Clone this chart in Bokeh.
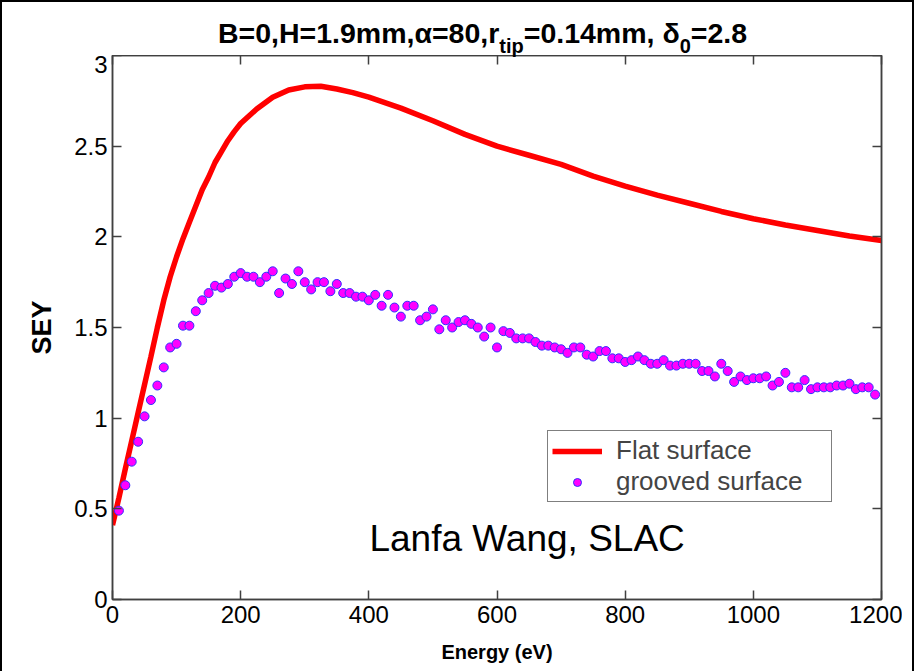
from bokeh.plotting import figure
from bokeh.layouts import column
from bokeh.models import (Range1d, LinearAxis, FixedTicker, Legend, LegendItem, Label, Div)
from bokeh.embed import file_html
from bokeh.resources import INLINE

# ---------------- data ----------------
flat_energy = [0, 10, 20, 30, 40, 50, 60, 70, 80, 90, 100, 110, 120, 130, 140, 150,
               160, 170, 180, 190, 200, 225, 250, 275, 300, 325, 350, 375, 400, 450,
               500, 550, 600, 650, 700, 750, 800, 850, 900, 950, 1000, 1050, 1100,
               1150, 1200]
flat_sey = [0.41, 0.56, 0.72, 0.875, 1.03, 1.185, 1.34, 1.50, 1.65, 1.78, 1.89, 1.99,
            2.08, 2.17, 2.26, 2.33, 2.41, 2.47, 2.53, 2.58, 2.625, 2.705, 2.77, 2.81,
            2.827, 2.83, 2.815, 2.795, 2.77, 2.71, 2.64, 2.565, 2.50, 2.45, 2.40,
            2.335, 2.28, 2.23, 2.185, 2.14, 2.10, 2.065, 2.035, 2.005, 1.98]

groove_energy = [10, 20, 30, 40, 50, 60, 70, 80, 90, 100, 110, 120, 130, 140, 150,
                 160, 170, 180, 190, 200, 210, 220, 230, 240, 250, 260, 270, 280, 290,
                 300, 310, 320, 330, 340, 350, 360, 370, 380, 390, 400, 410, 420, 430,
                 440, 450, 460, 470, 480, 490, 500, 510, 520, 530, 540, 550, 560, 570,
                 580, 590, 600, 610, 620, 630, 640, 650, 660, 670, 680, 690, 700, 710,
                 720, 730, 740, 750, 760, 770, 780, 790, 800, 810, 820, 830, 840, 850,
                 860, 870, 880, 890, 900, 910, 920, 930, 940, 950, 960, 970, 980, 990,
                 1000, 1010, 1020, 1030, 1040, 1050, 1060, 1070, 1080, 1090, 1100, 1110,
                 1120, 1130, 1140, 1150, 1160, 1170, 1180, 1190]
groove_sey = [0.49, 0.63, 0.76, 0.87, 1.01, 1.10, 1.18, 1.28, 1.39, 1.41, 1.51, 1.51,
              1.59, 1.65, 1.69, 1.73, 1.72, 1.74, 1.78, 1.80, 1.78, 1.78, 1.75, 1.78,
              1.81, 1.69, 1.77, 1.74, 1.81, 1.75, 1.71, 1.75, 1.75, 1.70, 1.74, 1.69,
              1.69, 1.67, 1.67, 1.65, 1.68, 1.62, 1.68, 1.61, 1.56, 1.62, 1.62, 1.54,
              1.56, 1.60, 1.49, 1.54, 1.50, 1.53, 1.54, 1.52, 1.50, 1.45, 1.50, 1.39,
              1.48, 1.47, 1.44, 1.44, 1.44, 1.42, 1.40, 1.40, 1.39, 1.38, 1.36, 1.39,
              1.39, 1.35, 1.34, 1.37, 1.37, 1.33, 1.33, 1.31, 1.32, 1.34, 1.32, 1.30,
              1.30, 1.32, 1.29, 1.29, 1.30, 1.30, 1.30, 1.26, 1.26, 1.23, 1.30, 1.26,
              1.20, 1.23, 1.21, 1.22, 1.22, 1.23, 1.18, 1.20, 1.25, 1.17, 1.17, 1.21,
              1.16, 1.17, 1.17, 1.17, 1.18, 1.18, 1.19, 1.16, 1.17, 1.17, 1.13]

x_ticks = [0, 200, 400, 600, 800, 1000, 1200]
y_ticks = [0, 0.5, 1, 1.5, 2, 2.5, 3]
y_tick_labels = ["0", "0.5", "1", "1.5", "2", "2.5", "3"]

series_names = ["Flat surface", "grooved surface"]
x_label = "Energy (eV)"
y_label = "SEY"
note_text = "Lanfa Wang, SLAC"
title_html = "B=0,H=1.9mm,\u03b1=80,r<sub>tip</sub>=0.14mm, \u03b4<sub>0</sub>=2.8"

# ---------------- figure ----------------
FONT = "Liberation Sans"
AXIS_COLOR = "#404040"

p = figure(width=900, height=618, output_backend="svg", toolbar_location=None,
           x_range=Range1d(0, 1200), y_range=Range1d(0, 3),
           min_border_left=110, min_border_right=21, min_border_top=0,
           min_border_bottom=74,
           styles={"margin-top": "-9px"})
p.grid.visible = False
p.outline_line_color = AXIS_COLOR
p.outline_line_width = 1.5
p.background_fill_color = "white"
p.border_fill_color = "white"
p.border_fill_alpha = 0

p.xaxis.ticker = FixedTicker(ticks=x_ticks)
p.yaxis.ticker = FixedTicker(ticks=y_ticks)
p.yaxis.major_label_overrides = {v: s for v, s in zip(y_ticks, y_tick_labels)}

for ax in [p.xaxis[0], p.yaxis[0]]:
    ax.major_tick_in = 9
    ax.major_tick_out = 0
    ax.minor_tick_line_color = None
    ax.axis_line_color = AXIS_COLOR
    ax.axis_line_width = 1.5
    ax.major_tick_line_color = AXIS_COLOR
    ax.major_tick_line_width = 1.5
    ax.major_label_text_font = FONT
    ax.major_label_text_font_size = "24px"
    ax.major_label_text_color = "black"
    ax.axis_label_text_font = FONT
    ax.axis_label_text_font_style = "bold"
    ax.axis_label_text_color = "black"

p.xaxis.axis_label = x_label
p.xaxis.axis_label_text_font_size = "20px"
p.xaxis.major_label_standoff = 6
p.xaxis.axis_label_standoff = 15
p.yaxis.axis_label = y_label
p.yaxis.axis_label_text_font_size = "27px"
p.yaxis.major_label_standoff = 5
p.yaxis.axis_label_standoff = 14


def box_axis(ticks):
    return LinearAxis(ticker=FixedTicker(ticks=ticks),
                      major_label_overrides={t: "" for t in ticks},
                      major_label_text_font_size="1px", major_label_standoff=0,
                      major_tick_in=9, major_tick_out=0, minor_tick_line_color=None,
                      axis_line_color=AXIS_COLOR, axis_line_width=1.5,
                      major_tick_line_color=AXIS_COLOR, major_tick_line_width=1.5)


p.add_layout(box_axis(x_ticks), "above")
p.add_layout(box_axis(y_ticks), "right")

# ---------------- glyphs ----------------
flat = p.line(flat_energy, flat_sey, line_color="#FF0000", line_width=5.5)
groove = p.scatter(groove_energy, groove_sey, size=9, marker="circle",
                   fill_color="#FF00FF", line_color="#3030FF", line_width=1)

legend = Legend(items=[LegendItem(label=series_names[0], renderers=[flat]),
                       LegendItem(label=series_names[1], renderers=[groove])],
                location=(435, 97), orientation="vertical",
                border_line_color="black", border_line_width=1,
                background_fill_color="white", background_fill_alpha=1,
                label_text_font=FONT, label_text_font_size="26px",
                glyph_width=50, glyph_height=20, label_standoff=14,
                padding=4, spacing=0, margin=0, label_width=211)
p.add_layout(legend)

p.add_layout(Label(x=647, y=0.335, text=note_text, text_align="center",
                   text_baseline="alphabetic", text_font=FONT,
                   text_font_size="37px", text_color="black"))

# ---------------- title (HTML, for the subscripts) ----------------
title_div = Div(
    text=('<div style="position:relative; left:211px; top:12px; '
          'font-family:\'Liberation Sans\'; font-weight:bold; font-size:28.5px; '
          'line-height:1; white-space:nowrap; color:black;">'
          + title_html.replace("<sub>", '<sub style="font-size:20px; '
                               'vertical-align:-10px; line-height:0;">')
          + '</div>'),
    width=900, height=52, styles={"z-index": "1"})

layout = column(title_div, p, spacing=0,
                styles={"border-left": "2px solid black",
                        "border-top": "2px solid black",
                        "border-right": "2px solid black",
                        "margin-bottom": "-8px",
                        "background-color": "white"})

open("out.html", "w").write(file_html(layout, INLINE))
